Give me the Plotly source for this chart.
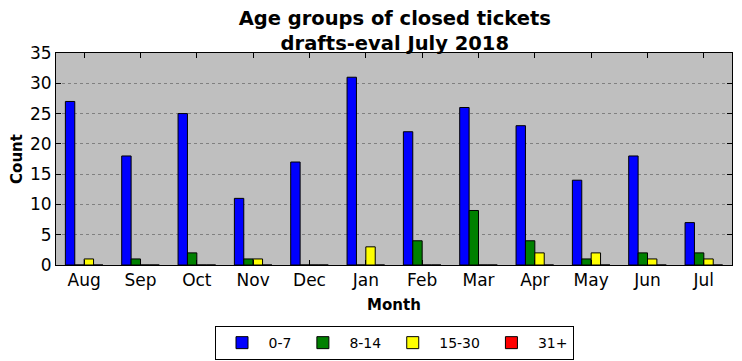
import plotly.graph_objects as go

months = ["Aug", "Sep", "Oct", "Nov", "Dec", "Jan", "Feb", "Mar", "Apr", "May", "Jun", "Jul"]
s_0_7 = [27, 18, 25, 11, 17, 31, 22, 26, 23, 14, 18, 7]
s_8_14 = [0, 1, 2, 1, 0, 0, 4, 9, 4, 1, 2, 2]
s_15_30 = [1, 0, 0, 1, 0, 3, 0, 0, 2, 2, 1, 1]
s_31p = [0, 0, 0, 0, 0, 0, 0, 0, 0, 0, 0, 0]

series = [("0-7", s_0_7, "#0000ff"), ("8-14", s_8_14, "#008000"),
          ("15-30", s_15_30, "#ffff00"), ("31+", s_31p, "#ff0000")]

fig = go.Figure()
for name, vals, col in series:
    fig.add_trace(go.Bar(x=months, y=vals, name=name,
                         marker=dict(color=col, line=dict(color="black", width=1))))

font = "DejaVu Sans"
W, H = 734, 353  # page body has an 8px margin
fig.update_layout(
    width=W, height=H,
    margin=dict(l=48, r=10, t=45, b=96, autoexpand=False),
    paper_bgcolor="white", plot_bgcolor="#bfbfbf",
    barmode="group", bargap=0.333, bargroupgap=0,
    font=dict(family=font, color="black", size=17),
    title=dict(text="<b>Age groups of closed tickets<br>drafts-eval July 2018</b>",
               x=0.527, xanchor="center", yref="container", y=1 - 17 / H, yanchor="middle",
               font=dict(size=19.5, family=font)),
    legend=dict(orientation="h", x=0.5, xanchor="center", y=-0.288, yanchor="top",
                bordercolor="black", borderwidth=1, font=dict(size=14),
                itemwidth=43, traceorder="normal"),
    showlegend=True,
)
fig.update_xaxes(range=[-0.5, 11.5], showline=True, linecolor="black", linewidth=1,
                 mirror="ticks", ticks="inside", ticklen=5, tickcolor="black",
                 title=dict(text="<b>Month</b>", font=dict(size=15), standoff=10),
                 tickfont=dict(size=17), showgrid=False, automargin=False)
fig.update_yaxes(range=[0, 35], dtick=5, showline=True, linecolor="black", linewidth=1,
                 mirror="ticks", ticks="inside", ticklen=5, tickcolor="black",
                 title=dict(text="<b>Count</b>", font=dict(size=15), standoff=7),
                 tickfont=dict(size=17), showgrid=True, gridcolor="#808080",
                 griddash="dot", gridwidth=1, zeroline=False, automargin=False)

fig.write_html("out.html")
